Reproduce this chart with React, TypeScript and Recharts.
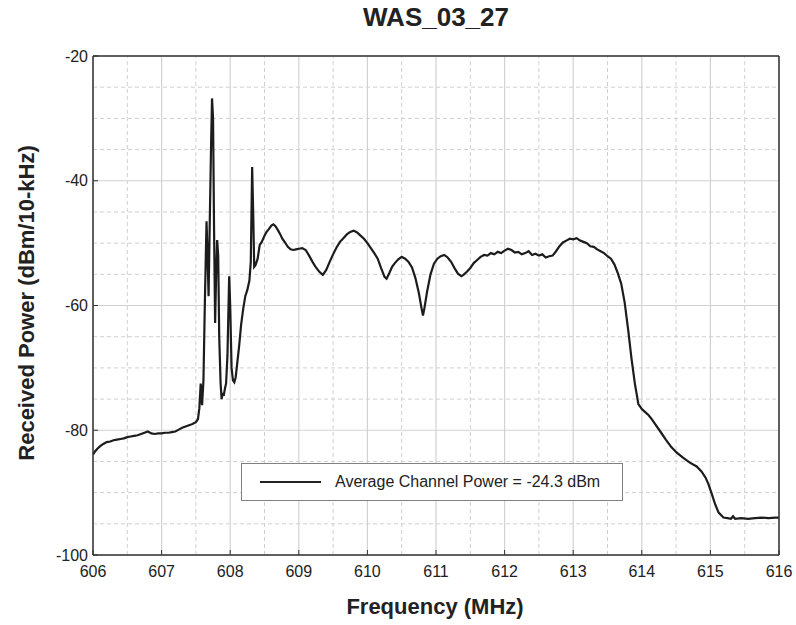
import { LineChart, Line, XAxis, YAxis, CartesianGrid, ReferenceLine, Legend } from 'recharts';

// frequency (MHz) and received power (dBm/10-kHz)
const freqs = [
  606.0, 606.03, 606.06, 606.1, 606.15, 606.2, 606.25, 606.3, 606.35, 606.4, 606.45, 606.5,
  606.55, 606.6, 606.65, 606.7, 606.75, 606.8, 606.85, 606.9, 606.95, 607.0, 607.05, 607.1,
  607.15, 607.2, 607.25, 607.3, 607.35, 607.4, 607.45, 607.5, 607.53, 607.55, 607.57, 607.59,
  607.61, 607.63, 607.655, 607.67, 607.685, 607.7, 607.72, 607.735, 607.75, 607.765, 607.78, 607.795,
  607.81, 607.825, 607.84, 607.86, 607.875, 607.89, 607.905, 607.92, 607.94, 607.96, 607.985, 608.0,
  608.02, 608.04, 608.06, 608.08, 608.1, 608.13, 608.16, 608.19, 608.22, 608.25, 608.28, 608.3,
  608.32, 608.335, 608.35, 608.37, 608.4, 608.43, 608.46, 608.5, 608.53, 608.56, 608.6, 608.63,
  608.66, 608.7, 608.73, 608.76, 608.8, 608.84, 608.88, 608.92, 608.96, 609.0, 609.05, 609.1,
  609.15, 609.2, 609.25, 609.3, 609.35, 609.4, 609.45, 609.5, 609.55, 609.6, 609.65, 609.7,
  609.75, 609.8, 609.85, 609.9, 609.95, 610.0, 610.05, 610.1, 610.15, 610.2, 610.25, 610.28,
  610.32, 610.36, 610.4, 610.45, 610.5, 610.55, 610.6, 610.65, 610.7, 610.75, 610.79, 610.81,
  610.83, 610.87, 610.92, 610.97, 611.02, 611.07, 611.12, 611.17, 611.22, 611.27, 611.32, 611.37,
  611.4, 611.45, 611.5, 611.55, 611.6, 611.65, 611.7, 611.75, 611.8, 611.85, 611.9, 611.95,
  612.0, 612.05, 612.1, 612.15, 612.2, 612.25, 612.3, 612.35, 612.4, 612.45, 612.5, 612.55,
  612.6, 612.65, 612.7, 612.75, 612.8, 612.85, 612.9, 612.95, 613.0, 613.05, 613.1, 613.15,
  613.2, 613.25, 613.3, 613.35, 613.4, 613.45, 613.5, 613.55, 613.6, 613.65, 613.7, 613.75,
  613.8, 613.85, 613.9, 613.95, 614.0, 614.05, 614.1, 614.15, 614.2, 614.27, 614.35, 614.43,
  614.51, 614.6, 614.7, 614.8, 614.87, 614.93, 614.97, 615.02, 615.07, 615.12, 615.19, 615.25,
  615.3, 615.33, 615.36, 615.45, 615.55, 615.65, 615.75, 615.85, 615.95, 616.0,
];

const power = [
  -83.9, -83.4, -83.0, -82.6, -82.2, -81.9, -81.8, -81.6, -81.5, -81.4, -81.3, -81.1,
  -81.0, -80.9, -80.8, -80.6, -80.4, -80.2, -80.5, -80.6, -80.5, -80.5, -80.4, -80.4,
  -80.3, -80.2, -79.9, -79.6, -79.4, -79.2, -79.0, -78.7, -78.2, -76.5, -72.5, -76.0,
  -72.0, -60.0, -46.5, -52.0, -58.5, -48.0, -35.0, -26.8, -30.0, -48.0, -62.8, -55.0,
  -49.5, -52.0, -65.0, -72.5, -75.0, -74.0, -74.5, -73.5, -72.5, -68.0, -55.3, -60.0,
  -70.0, -72.0, -72.3, -71.5, -69.5, -66.5, -63.0, -60.5, -58.5, -57.5, -56.0, -53.0,
  -37.8, -45.0, -53.8, -53.5, -52.5, -50.3, -49.8, -48.8, -48.2, -47.8, -47.2, -47.0,
  -47.3, -48.0, -48.6, -49.3, -49.9, -50.6, -51.0, -51.1, -51.0, -50.9, -50.8, -51.1,
  -52.0, -53.0, -53.9, -54.6, -55.1, -54.3, -53.0, -51.8, -50.7, -49.8, -49.2, -48.6,
  -48.2, -48.0, -48.3, -48.8, -49.3, -50.0, -50.8, -51.6, -52.5, -54.0, -55.4, -55.7,
  -54.8, -53.8, -53.2, -52.6, -52.2, -52.5, -53.0, -53.9, -55.6, -58.0, -60.5, -61.6,
  -60.5, -57.8, -55.0, -53.3, -52.5, -52.1, -51.9, -52.3, -53.0, -54.0, -54.9, -55.3,
  -55.1, -54.6, -54.0, -53.2, -52.7, -52.2, -51.9, -52.0, -51.6, -51.8, -51.4, -51.6,
  -51.2, -50.9, -51.1, -51.5, -51.4, -51.8, -51.6, -51.3, -51.9, -51.7, -52.0, -51.8,
  -52.3, -52.1, -52.0, -51.3, -50.5, -49.9, -49.6, -49.3, -49.4, -49.2, -49.6, -49.8,
  -50.0, -50.5, -50.6, -51.0, -51.3, -51.6, -52.1, -52.5, -53.4, -54.8, -56.5, -59.5,
  -63.8, -68.5, -72.6, -75.8, -76.6, -77.1, -77.6, -78.3, -79.1, -80.2, -81.5, -82.7,
  -83.6, -84.4, -85.2, -85.8, -86.6, -87.6, -88.6, -90.2, -91.9, -93.2, -94.0, -94.1,
  -94.2, -93.8, -94.2, -94.1, -94.2, -94.1, -94.0, -94.1, -94.0, -94.0,
];

const xTicks = [606, 607, 608, 609, 610, 611, 612, 613, 614, 615, 616];
const yTicks = [-100, -80, -60, -40, -20];
const xMinor = [606.5, 607.5, 608.5, 609.5, 610.5, 611.5, 612.5, 613.5, 614.5, 615.5];
const yMinor = [-95, -90, -85, -75, -70, -65, -55, -50, -45, -35, -30, -25];

const chartTitle = 'WAS_03_27';
const xLabel = 'Frequency (MHz)';
const yLabel = 'Received Power (dBm/10-kHz)';
const legendText = 'Average Channel Power = -24.3 dBm';

const data = freqs.map((f, i) => ({ f, p: power[i] }));

const font = '"Liberation Sans", Arial, sans-serif';
const ink = '#222';

const LegendBox = () => (
  <div
    style={{
      width: 380,
      height: 36,
      border: '1px solid #808080',
      background: '#fff',
      display: 'flex',
      alignItems: 'center',
      fontFamily: font,
      fontSize: 16,
      color: ink,
      boxSizing: 'content-box',
    }}
  >
    <div style={{ width: 61, height: 0, borderTop: `2.5px solid ${ink}`, marginLeft: 18, marginRight: 14 }} />
    <span>{legendText}</span>
  </div>
);

const App = () => {
  return (
    <div style={{ position: 'absolute', left: 0, top: 0, width: 796, height: 625, background: '#fff' }}>
      <div
        style={{
          position: 'absolute', left: 236, width: 400, top: 4, textAlign: 'center',
          fontFamily: font, fontWeight: 'bold', fontSize: 26, lineHeight: 1, color: ink,
        }}
      >
        {chartTitle}
      </div>
      <div
        style={{
          position: 'absolute', left: 235, width: 400, top: 596, textAlign: 'center',
          fontFamily: font, fontWeight: 'bold', fontSize: 22, lineHeight: 1, color: ink,
        }}
      >
        {xLabel}
      </div>
      <div
        style={{
          position: 'absolute', left: 27 - 250, width: 500, top: 303 - 11, height: 22, textAlign: 'center',
          fontFamily: font, fontWeight: 'bold', fontSize: 22, lineHeight: 1, color: ink,
          transform: 'rotate(-90deg)', whiteSpace: 'nowrap',
        }}
      >
        {yLabel}
      </div>
      <LineChart
        width={796}
        height={625}
        data={data}
        margin={{ top: 55, right: 16, bottom: 30, left: 33 }}
        style={{ position: 'absolute', left: 0, top: 0 }}
      >
        <CartesianGrid stroke="#d2d2d2" strokeWidth={1.2} />
        {xMinor.map((v) => (
          <ReferenceLine key={`x${v}`} x={v} stroke="#d0d0d0" strokeDasharray="4 3" />
        ))}
        {yMinor.map((v) => (
          <ReferenceLine key={`y${v}`} y={v} stroke="#d0d0d0" strokeDasharray="4 3" />
        ))}
        <XAxis
          dataKey="f"
          type="number"
          domain={[606, 616]}
          ticks={xTicks}
          allowDataOverflow
          height={40}
          tickSize={-5}
          tickMargin={16}
          axisLine={{ stroke: '#333', strokeWidth: 1.5 }}
          tickLine={{ stroke: '#333' }}
          tick={{ fill: ink, fontSize: 16, fontFamily: font }}
        />
        <XAxis
          xAxisId="top"
          orientation="top"
          type="number"
          domain={[606, 616]}
          ticks={xTicks}
          height={1}
          tickSize={-5}
          tick={false}
          axisLine={{ stroke: '#333', strokeWidth: 1.5 }}
          tickLine={{ stroke: '#333' }}
        />
        <YAxis
          type="number"
          domain={[-100, -20]}
          ticks={yTicks}
          allowDataOverflow
          width={60}
          tickSize={-5}
          tickMargin={10}
          axisLine={{ stroke: '#333', strokeWidth: 1.5 }}
          tickLine={{ stroke: '#333' }}
          tick={{ fill: ink, fontSize: 16, fontFamily: font }}
        />
        <YAxis
          yAxisId="right"
          orientation="right"
          type="number"
          domain={[-100, -20]}
          ticks={yTicks}
          width={1}
          tickSize={-5}
          tick={false}
          axisLine={{ stroke: '#333', strokeWidth: 1.5 }}
          tickLine={{ stroke: '#333' }}
        />
        <Legend
          verticalAlign="middle"
          align="center"
          layout="horizontal"
          content={() => <LegendBox />}
          wrapperStyle={{ left: 241, top: 463, width: 382, height: 38 }}
        />
        <Line
          dataKey="p"
          type="linear"
          stroke="#1c1c1c"
          strokeWidth={2.2}
          dot={false}
          activeDot={false}
          isAnimationActive={false}
        />
      </LineChart>
    </div>
  );
};

export default App;
